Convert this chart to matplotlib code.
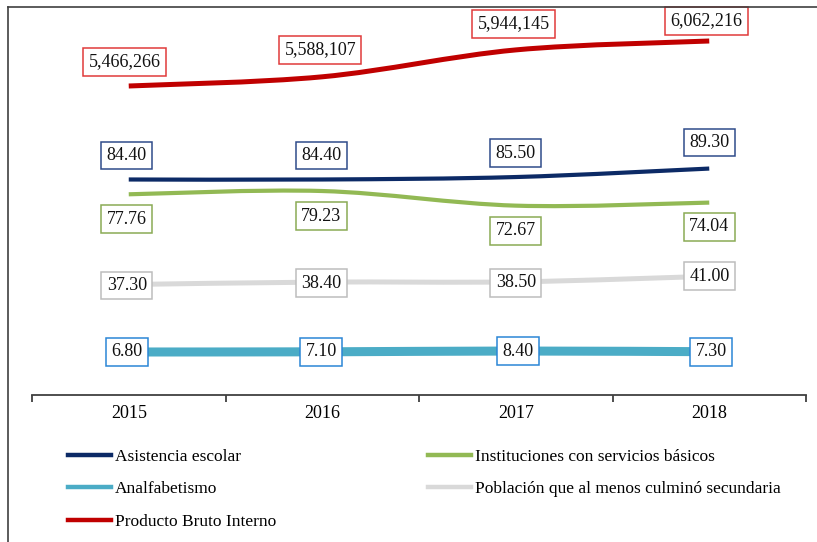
import matplotlib
matplotlib.use("Agg")
import matplotlib.pyplot as plt
from matplotlib.path import Path
from matplotlib.patches import PathPatch
from matplotlib.lines import Line2D
import numpy as np

plt.rcParams['font.family'] = ['Liberation Serif', 'DejaVu Serif']

years = ['2015', '2016', '2017', '2018']
asistencia = [84.40, 84.40, 85.50, 89.30]
instituciones = [77.76, 79.23, 72.67, 74.04]
poblacion = [37.30, 38.40, 38.50, 41.00]
analfabetismo = [6.80, 7.10, 8.40, 7.30]
pbi = [5466266, 5588107, 5944145, 6062216]

W, H = 817, 542
fig = plt.figure(figsize=(W / 100, H / 100), dpi=100)
ax = fig.add_axes([32 / W, 1 - 395 / H, (806 - 32) / W, (395 - 8) / H])
ax2 = ax.twinx()
ax3 = ax.twinx()

x = np.arange(len(years))


def smooth_path(xs, ys):
    pts = np.column_stack([xs, ys]).astype(float)
    n = len(pts)
    verts = [pts[0]]
    codes = [Path.MOVETO]
    for i in range(n - 1):
        p0 = pts[i - 1] if i > 0 else pts[i]
        p1 = pts[i]
        p2 = pts[i + 1]
        p3 = pts[i + 2] if i + 2 < n else pts[i + 1]
        c1 = p1 + (p2 - p0) / 6.0
        c2 = p2 - (p3 - p1) / 6.0
        verts += [c1, c2, p2]
        codes += [Path.CURVE4] * 3
    return Path(verts, codes)


def draw(axis, vals, color, lw):
    patch = PathPatch(smooth_path(x, vals), facecolor='none', edgecolor=color,
                      lw=lw, capstyle='butt', zorder=2)
    axis.add_patch(patch)


c_asis, c_inst, c_pob, c_anal, c_pbi = '#0c2a66', '#92b954', '#d9d9d9', '#4bacc6', '#c00000'
e_asis, e_inst, e_pob, e_anal, e_pbi = '#2f4b8a', '#8aab55', '#bdbdbd', '#2b86d6', '#e03a3a'

draw(ax3, analfabetismo, c_anal, 6.5)
draw(ax, poblacion, c_pob, 3.6)
draw(ax, instituciones, c_inst, 3.0)
draw(ax, asistencia, c_asis, 3.0)
draw(ax2, pbi, c_pbi, 3.6)

fs = 13


def label(axis, vals, fmt, edge, offsets):
    for xi, v, off in zip(x, vals, offsets):
        axis.annotate(fmt.format(v), (xi, v), xytext=off, textcoords='offset pixels',
                      ha='center', va='center', fontsize=fs, color='#111111', zorder=5,
                      bbox=dict(boxstyle='square,pad=0.3', fc='white', ec=edge, lw=1.1))


label(ax2, pbi, '{:,.0f}', e_pbi, [(-4, 24), (-2, 27), (-2, 26), (-3, 20)])
label(ax, asistencia, '{:.2f}', e_asis, [(-2, 24), (-1, 24), (0, 24), (0, 26)])
label(ax, instituciones, '{:.2f}', e_inst, [(-2, -25), (-1, -25), (0, -25), (0, -24)])
label(ax, poblacion, '{:.2f}', e_pob, [(-2, -1), (-1, -1), (0, -1), (0, 0)])
label(ax3, analfabetismo, '{:.2f}', e_anal, [(-2, 0), (-1, 0), (2, 0), (2, 0)])

ax.set_xlim(-0.5, 3.5)
ax.set_ylim(-12.24, 161.3)
ax2.set_ylim(1374179, 6499220)
ax3.set_ylim(-64.87, 580.1)

for a in (ax, ax2, ax3):
    for s in ('top', 'right', 'left'):
        a.spines[s].set_visible(False)
    a.set_yticks([])
ax2.spines['bottom'].set_visible(False)
ax3.spines['bottom'].set_visible(False)
ax.spines['bottom'].set_color('#404040')
ax.spines['bottom'].set_linewidth(1.3)
ax.set_xticks(np.arange(-0.5, 4.0, 1.0))
ax.set_xticklabels([])
ax.tick_params(axis='x', which='major', direction='out', length=5, width=1.3, color='#404040')
ax.set_xticks(x, minor=True)
ax.set_xticklabels(years, minor=True, fontsize=fs)
ax.tick_params(axis='x', which='minor', length=0, pad=7)

# figure frame (top and left)
fig.add_artist(Line2D([8 / W, 1], [1 - 7 / H, 1 - 7 / H], transform=fig.transFigure,
                      color='#404040', lw=1.2))
fig.add_artist(Line2D([8 / W, 8 / W], [0, 1 - 7 / H], transform=fig.transFigure,
                      color='#404040', lw=1.2))

handles = [
    Line2D([], [], color=c_asis, lw=3.2),
    Line2D([], [], color=c_anal, lw=3.2),
    Line2D([], [], color=c_pbi, lw=3.2),
    Line2D([], [], color=c_inst, lw=3.2),
    Line2D([], [], color=c_pob, lw=3.2),
]
labels = ['Asistencia escolar', 'Analfabetismo', 'Producto Bruto Interno',
          'Instituciones con servicios básicos', 'Población que al menos culminó secundaria']
fig.legend(handles, labels, ncol=2, loc='upper left', bbox_to_anchor=(68 / W, 1 - 449 / H),
           frameon=False, fontsize=12.5, borderpad=0, borderaxespad=0, handlelength=2.45,
           handletextpad=0.25, labelspacing=0.93, columnspacing=8.75)

fig.savefig('out.png', dpi=100)
